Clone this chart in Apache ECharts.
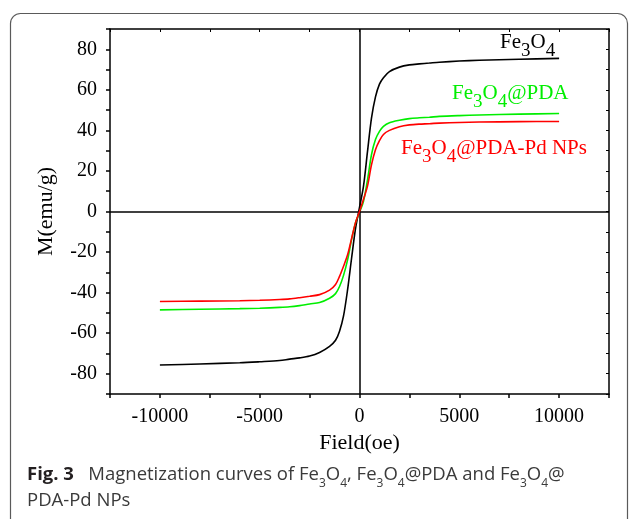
<!DOCTYPE html>
<html>
<head>
<meta charset="utf-8">
<script src="https://cdn.jsdelivr.net/npm/echarts@6/dist/echarts.min.js"></script>
<style>
  html, body { margin: 0; padding: 0; background: #fff; }
  #chart { width: 629px; height: 519px; }
</style>
</head>
<body>
<div id="chart"></div>
<script>
// applied field (oe) and magnetization (emu/g)
const fields = [-10000, -8000, -6000, -5000, -4000, -3500, -3000, -2500, -2000, -1500, -1200, -1000, -800, -600, -400, -200,
  0, 200, 400, 600, 800, 1000, 1200, 1500, 2000, 2500, 3000, 3500, 4000, 5000, 6000, 8000, 10000];
const fe3o4 = [-75.7, -75.2, -74.6, -74.1, -73.5, -72.8, -72.2, -71.3, -69.5, -66.5, -63.5, -59.0, -51.5, -38.8, -23.3, -8.5,
  2.0, 12.5, 29.5, 46.0, 56.5, 62.8, 66.0, 69.0, 71.2, 72.3, 72.8, 73.2, 73.6, 74.2, 74.6, 75.1, 75.5];
const fe3o4Pda = [-48.5, -48.2, -47.9, -47.7, -47.3, -47.0, -46.4, -45.6, -44.9, -42.8, -40.5, -37.0, -31.5, -24.0, -14.0, -5.5,
  -0.5, 5.0, 15.5, 28.0, 35.5, 39.5, 42.0, 43.8, 45.0, 45.8, 46.2, 46.5, 46.9, 47.3, 47.6, 48.0, 48.3];
const fe3o4PdaPd = [-44.4, -44.2, -44.0, -43.8, -43.4, -43.1, -42.5, -41.8, -41.0, -38.8, -36.0, -32.0, -27.0, -21.5, -13.5, -5.5,
  0, 6.0, 12.5, 23.0, 30.5, 35.0, 38.0, 40.0, 41.8, 42.7, 43.1, 43.3, 43.6, 43.9, 44.1, 44.3, 44.4];

const seriesNames = ["Fe3O4", "Fe3O4@PDA", "Fe3O4@PDA-Pd NPs"];
const seriesColors = ["#000000", "#00ee00", "#ff0000"];

const X_TICKS = [-10000, -5000, 0, 5000, 10000];
const Y_TICKS = [-80, -60, -40, -20, 0, 20, 40, 60, 80];

const SERIF = "Liberation Serif, Times New Roman, serif";
const SANS = "Open Sans, Noto Sans, sans-serif";

const pairs = (ys) => fields.map((x, i) => [x, ys[i]]);

const frameAxis = { lineStyle: { color: "#000", width: 1.5 } };

const chemLabel = (color) => ({
  n: { fontFamily: SERIF, fontSize: 21, fill: color, lineHeight: 24, verticalAlign: "top" },
  s: { fontFamily: SERIF, fontSize: 19, fill: color, padding: [10, 0, 0, 0], verticalAlign: "top" },
});

const capRich = {
  b: { fontFamily: SANS, fontSize: 18.5, fontWeight: "bold", fill: "#231f20", lineHeight: 24, verticalAlign: "top" },
  t: { fontFamily: SANS, fontSize: 18.5, fill: "#3a3a3a", lineHeight: 24, verticalAlign: "top" },
  s: { fontFamily: SANS, fontSize: 12, fill: "#3a3a3a", padding: [13, 0, 0, 0], verticalAlign: "top" },
};

const chart = echarts.init(document.getElementById("chart"), null, { renderer: "canvas" });

chart.setOption({
  animation: false,
  backgroundColor: "#fff",
  grid: { left: 110, right: 20, top: 29, bottom: 125 },
  xAxis: [
    {
      type: "value", min: -12500, max: 12500, interval: 2500, position: "bottom",
      name: "Field(oe)", nameLocation: "middle", nameGap: 34,
      nameTextStyle: { fontFamily: SERIF, fontSize: 22, color: "#000" },
      axisLine: { onZero: false, ...frameAxis },
      axisTick: { inside: false, length: 4, lineStyle: { color: "#000", width: 1.5 } },
      axisLabel: {
        fontFamily: SERIF, fontSize: 20, color: "#000", margin: 13,
        formatter: (v) => (X_TICKS.includes(v) ? String(v) : ""),
      },
      splitLine: { show: false },
    },
    {
      type: "value", min: -12500, max: 12500, interval: 2500, position: "top",
      axisLine: { onZero: false, ...frameAxis },
      axisTick: { inside: true, length: 3, lineStyle: { color: "#000", width: 1 } },
      axisLabel: { show: false },
      splitLine: { show: false },
    },
  ],
  yAxis: [
    {
      type: "value", min: -90, max: 90, interval: 10, position: "left",
      name: "M(emu/g)", nameLocation: "middle", nameGap: 53, nameRotate: 90,
      nameTextStyle: { fontFamily: SERIF, fontSize: 22, color: "#000" },
      axisLine: { onZero: false, ...frameAxis },
      axisTick: { inside: false, length: 4, lineStyle: { color: "#000", width: 1.5 } },
      axisLabel: {
        fontFamily: SERIF, fontSize: 20, color: "#000", margin: 13,
        formatter: (v) => (Y_TICKS.includes(v) ? String(v) : ""),
      },
      splitLine: { show: false },
    },
    {
      type: "value", min: -90, max: 90, interval: 10, position: "right",
      axisLine: { onZero: false, ...frameAxis },
      axisTick: { inside: true, length: 3, lineStyle: { color: "#000", width: 1 } },
      axisLabel: { show: false },
      splitLine: { show: false },
    },
  ],
  series: [
    {
      name: seriesNames[0], type: "line", data: pairs(fe3o4), z: 3,
      showSymbol: false, smooth: 0.3,
      lineStyle: { color: seriesColors[0], width: 1.6 },
      markLine: {
        silent: true, symbol: "none", label: { show: false },
        lineStyle: { color: "#000", width: 1.5, type: "solid" },
        data: [{ xAxis: 0 }, { yAxis: 0 }],
      },
    },
    {
      name: seriesNames[1], type: "line", data: pairs(fe3o4Pda), z: 4,
      showSymbol: false, smooth: 0.3,
      lineStyle: { color: seriesColors[1], width: 1.6 },
    },
    {
      name: seriesNames[2], type: "line", data: pairs(fe3o4PdaPd), z: 5,
      showSymbol: false, smooth: 0.3,
      lineStyle: { color: seriesColors[2], width: 1.6 },
    },
  ],
  graphic: [
    {
      type: "rect", silent: true, z: -1,
      shape: { x: 10.5, y: 13.5, width: 617, height: 540, r: 10 },
      style: { fill: "none", stroke: "#5a5a5a", lineWidth: 1.2 },
    },
    {
      type: "text", left: 500, top: 32, z: 10,
      style: { text: "{n|Fe}{s|3}{n|O}{s|4}", rich: chemLabel(seriesColors[0]) },
    },
    {
      type: "text", left: 452, top: 83, z: 10,
      style: { text: "{n|Fe}{s|3}{n|O}{s|4}{n|@PDA}", rich: chemLabel(seriesColors[1]) },
    },
    {
      type: "text", left: 401, top: 138, z: 10,
      style: { text: "{n|Fe}{s|3}{n|O}{s|4}{n|@PDA-Pd NPs}", rich: chemLabel(seriesColors[2]) },
    },
    {
      type: "text", left: 27, top: 465, z: 10,
      style: {
        text: "{b|Fig. 3}{t|   Magnetization curves of Fe}{s|3}{t|O}{s|4}{t|, Fe}{s|3}{t|O}{s|4}{t|@PDA and Fe}{s|3}{t|O}{s|4}{t|@}",
        rich: capRich,
      },
    },
    {
      type: "text", left: 27, top: 491, z: 10,
      style: { text: "{t|PDA-Pd NPs}", rich: capRich },
    },
  ],
});
</script>
</body>
</html>
